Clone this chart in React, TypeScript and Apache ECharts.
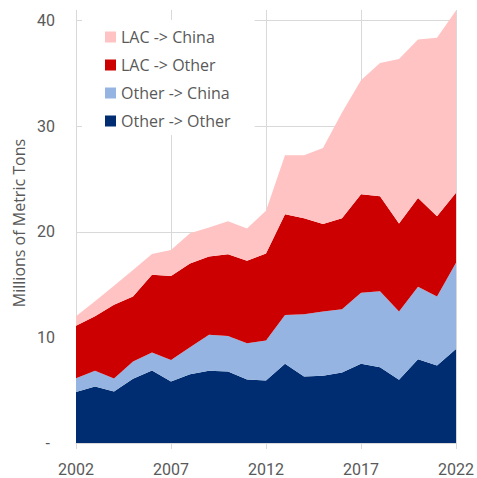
import React, { useEffect, useRef } from "react";
import * as echarts from "echarts";

const years = ["2002", "2003", "2004", "2005", "2006", "2007", "2008", "2009", "2010", "2011", "2012", "2013", "2014", "2015", "2016", "2017", "2018", "2019", "2020", "2021", "2022"];
const otherToOther = [4.82, 5.35, 4.88, 6.08, 6.86, 5.82, 6.52, 6.83, 6.77, 6.01, 5.92, 7.5, 6.3, 6.36, 6.67, 7.5, 7.18, 5.98, 7.94, 7.33, 8.91];
const otherToChina = [1.32, 1.48, 1.23, 1.63, 1.7, 2.05, 2.55, 3.41, 3.37, 3.44, 3.78, 4.63, 5.89, 6.08, 6.0, 6.73, 7.19, 6.46, 6.86, 6.53, 8.16];
const lacToOther = [4.96, 5.17, 6.99, 6.15, 7.37, 7.95, 7.93, 7.43, 7.73, 7.81, 8.25, 9.54, 9.08, 8.29, 8.6, 9.33, 9.0, 8.35, 8.41, 7.62, 6.62];
const lacToChina = [0.9, 1.42, 1.8, 2.52, 1.96, 2.45, 2.85, 2.73, 3.13, 3.04, 4.05, 5.58, 5.98, 7.21, 10.03, 10.78, 12.61, 15.56, 14.99, 16.89, 17.26];

const seriesNames = ["Other -> Other", "Other -> China", "LAC -> Other", "LAC -> China"];
const seriesColors = ["#002D72", "#95B4E1", "#CC0000", "#FFC3C3"];
const seriesValues = [otherToOther, otherToChina, lacToOther, lacToChina];

const FONT = "'Open Sans', Roboto, sans-serif";
const NUMFONT = "Roboto, 'Open Sans', sans-serif";
const GRAY = "#595959";
const GRID = "#D9D9D9";

export default function App() {
  const ref = useRef<HTMLDivElement>(null);
  useEffect(() => {
    document.body.style.margin = "0";
    document.body.style.overflow = "hidden";
    if (!ref.current) return;
    const chart = echarts.init(ref.current, undefined, { renderer: "svg" });
    chart.setOption({
      animation: false,
      textStyle: { fontFamily: FONT },
      grid: { left: 76, right: 18, top: 10, bottom: 35 },
      legend: {
        data: [...seriesNames].reverse(),
        orient: "vertical",
        left: 82,
        top: 20,
        backgroundColor: "#ffffff",
        padding: [9, 24, 6, 23],
        itemWidth: 11,
        itemHeight: 11,
        itemGap: 12,
        icon: "rect",
        textStyle: { fontFamily: FONT, fontSize: 16, color: GRAY, lineHeight: 16 },
      },
      xAxis: {
        type: "category",
        data: years,
        boundaryGap: false,
        axisLine: { show: true, lineStyle: { color: GRID, width: 1 } },
        axisTick: { show: true, length: 6, interval: 4, lineStyle: { color: GRID } },
        axisLabel: {
          interval: 4,
          fontSize: 16,
          color: GRAY,
          margin: 18,
          fontFamily: NUMFONT,
        },
        splitLine: { show: true, interval: 4, lineStyle: { color: GRID, width: 1 } },
      },
      yAxis: {
        type: "value",
        min: 0,
        max: 41,
        interval: 10,
        axisLine: { show: false },
        axisTick: { show: false },
        axisLabel: {
          formatter: (v: number) => (v === 0 ? "{d|-}" : v % 10 === 0 ? String(v) : ""),
          fontSize: 16,
          color: GRAY,
          margin: 21,
          fontFamily: NUMFONT,
          rich: { d: { fontSize: 16, color: GRAY, padding: [0, 5, 0, 0], fontFamily: NUMFONT } },
        },
        splitLine: {
          show: true,
          lineStyle: { color: [GRID, GRID, GRID, GRID, GRID, "rgba(0,0,0,0)"], width: 1 },
        },
      },
      graphic: [
        {
          type: "text",
          x: 19,
          y: 223,
          rotation: Math.PI / 2,
          style: {
            text: "Millions of Metric Tons",
            fontSize: 16,
            fill: GRAY,
            fontFamily: FONT,
            align: "center",
            verticalAlign: "middle",
          },
        },
      ],
      series: seriesNames.map((name, i) => ({
        name,
        type: "line",
        stack: "total",
        showSymbol: false,
        symbol: "none",
        lineStyle: { width: 0 },
        itemStyle: { color: seriesColors[i] },
        areaStyle: { color: seriesColors[i], opacity: 1 },
        data: seriesValues[i],
        z: 2,
      })),
    });
    return () => chart.dispose();
  }, []);
  return <div ref={ref} style={{ width: 477, height: 478 }} />;
}
